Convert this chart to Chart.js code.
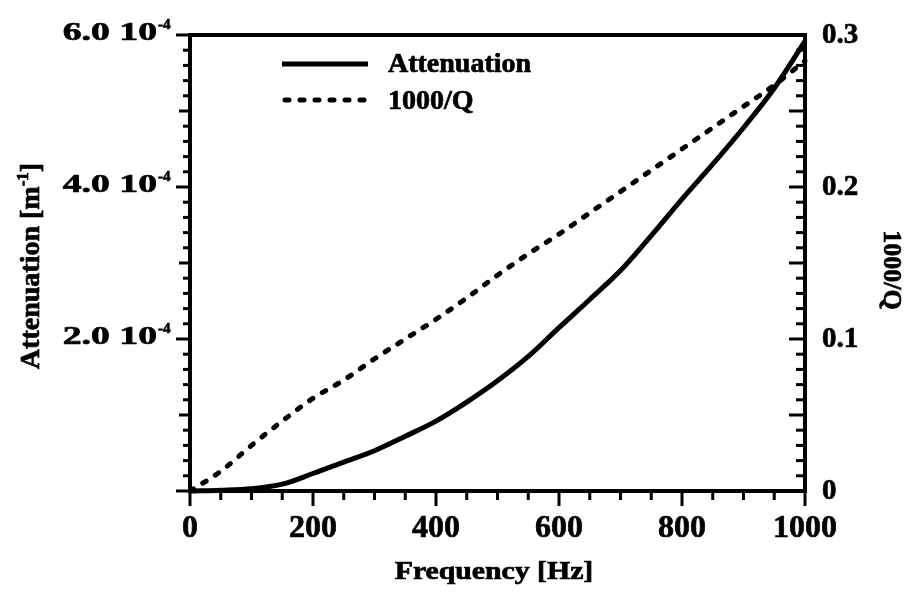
<!DOCTYPE html>
<html>
<head>
<meta charset="utf-8">
<script src="https://cdn.jsdelivr.net/npm/chart.js@4.4.1/dist/chart.umd.min.js"></script>
<style>
  html, body { margin: 0; padding: 0; background: #fff; }
  #wrap { width: 909px; height: 593px; position: relative; }
</style>
</head>
<body>
<div id="wrap"><canvas id="chart"></canvas></div>
<script>
// ---- Data -----------------------------------------------------------------

const freq = [0, 50, 100, 150, 200, 250, 300, 350, 400, 450, 500,
              550, 600, 650, 700, 750, 800, 850, 900, 950, 1000];
// attenuation in m^-1
const attenuation = [0, 0.01e-4, 0.03e-4, 0.09e-4, 0.23e-4, 0.38e-4, 0.53e-4, 0.72e-4,
                     0.92e-4, 1.17e-4, 1.45e-4, 1.77e-4, 2.15e-4, 2.52e-4, 2.90e-4,
                     3.36e-4, 3.84e-4, 4.30e-4, 4.78e-4, 5.30e-4, 5.92e-4];
// 1000/Q
const invQ = [0, 0.013, 0.030, 0.046, 0.061, 0.073, 0.087, 0.100, 0.113, 0.127, 0.142,
              0.156, 0.169, 0.183, 0.197, 0.211, 0.225, 0.239, 0.253, 0.267, 0.283];

const xTicks = [0, 200, 400, 600, 800, 1000];
const leftTicks = [2e-4, 4e-4, 6e-4];
const leftTickText = ["2.0 10", "4.0 10", "6.0 10"];
const leftTickExp = "-4";
const rightTicks = [0, 0.1, 0.2, 0.3];
const rightTickText = ["0", "0.1", "0.2", "0.3"];

const FONT = '"Liberation Serif", "Times New Roman", serif';
const DASH = [4, 11];

// ---- Helpers ---------------------------------------------------------------

function txt(ctx, str, x, y, size, opts = {}) {
  ctx.save();
  ctx.translate(x, y);
  if (opts.rot) ctx.rotate(opts.rot);
  ctx.scale(opts.sx || 1, 1);
  ctx.font = `bold ${size}px ${FONT}`;
  ctx.textAlign = opts.align || "left";
  ctx.textBaseline = "alphabetic";
  ctx.fillStyle = "#000";
  ctx.strokeStyle = "#000";
  ctx.lineWidth = 0.7;
  ctx.fillText(str, 0, 0);
  ctx.strokeText(str, 0, 0);
  ctx.restore();
}

function line(ctx, x1, y1, x2, y2, w) {
  ctx.beginPath();
  ctx.lineWidth = w;
  ctx.moveTo(x1, y1);
  ctx.lineTo(x2, y2);
  ctx.stroke();
}

// frame, ticks, labels, titles, legend
const decor = {
  id: "decor",
  afterDatasetsDraw(chart) {
    const ctx = chart.ctx;
    const { left, right, top, bottom } = chart.chartArea;
    const xs = chart.scales.x, ys = chart.scales.y, y2 = chart.scales.y2;
    ctx.save();
    ctx.strokeStyle = "#000";
    ctx.lineCap = "butt";

    // frame
    ctx.lineWidth = 4;
    ctx.strokeRect(left, top, right - left, bottom - top);

    // bottom ticks (outside)
    for (let k = 0; k <= 20; k++) {
      const px = xs.getPixelForValue(k * 50);
      line(ctx, px, bottom, px, bottom + (k % 4 === 0 ? 15 : 9), 3);
    }
    // left ticks (outside)
    for (let k = 0; k <= 30; k++) {
      const py = ys.getPixelForValue(k * 0.2e-4);
      const len = k % 10 === 0 ? 14 : k % 5 === 0 ? 11 : 7;
      line(ctx, left, py, left - len, py, 3);
    }
    // right ticks (inside)
    for (let k = 0; k <= 30; k++) {
      const py = y2.getPixelForValue(k * 0.01);
      const len = k % 5 === 0 ? 16 : 9;
      line(ctx, right, py, right - len, py, 3);
    }

    // tick labels
    xTicks.forEach((v) => txt(ctx, String(v), xs.getPixelForValue(v), bottom + 46, 32, { align: "center" }));
    leftTicks.forEach((v, i) => {
      const py = ys.getPixelForValue(v);
      txt(ctx, leftTickText[i], 157, py + 5, 26, { align: "right", sx: 1.45 });
      txt(ctx, leftTickExp, 158, py - 6, 15);
    });
    rightTicks.forEach((v, i) => {
      txt(ctx, rightTickText[i], right + 17, y2.getPixelForValue(v) + 8, 29);
    });

    // axis titles
    txt(ctx, "Frequency [Hz]", 494, 579, 25, { align: "center", sx: 1.19 });
    txt(ctx, "1000/Q", 884, 270, 26, { align: "center", rot: Math.PI / 2 });

    // left title with superscript, rotated
    ctx.save();
    ctx.translate(39, 266);
    ctx.rotate(-Math.PI / 2);
    ctx.font = `bold 28px ${FONT}`;
    const a = "Attenuation [m", b = "]";
    const wa = ctx.measureText(a).width, wb = ctx.measureText(b).width;
    ctx.font = `bold 17px ${FONT}`;
    const ws = ctx.measureText("-1").width;
    const x0 = -(wa + ws + wb) / 2;
    ctx.restore();
    const rot = -Math.PI / 2;
    txt(ctx, a, 39, 266 - x0, 28, { rot });
    txt(ctx, "-1", 39 - 11, 266 - x0 - wa, 17, { rot });
    txt(ctx, b, 39, 266 - x0 - wa - ws, 28, { rot });

    // legend
    line(ctx, 282, 64, 368, 64, 5);
    ctx.save();
    ctx.setLineDash(DASH);
    ctx.lineCap = "round";
    line(ctx, 285, 100, 366, 100, 5);
    ctx.restore();
    txt(ctx, "Attenuation", 388, 72, 28);
    txt(ctx, "1000/Q", 388, 109, 28);

    ctx.restore();
  },
};

// ---- Chart -----------------------------------------------------------------

new Chart(document.getElementById("chart"), {
  type: "line",
  data: {
    datasets: [
      {
        label: "Attenuation",
        data: freq.map((f, i) => ({ x: f, y: attenuation[i] })),
        yAxisID: "y",
        borderColor: "#000",
        borderWidth: 5,
        pointRadius: 0,
        cubicInterpolationMode: "monotone",
        clip: false,
      },
      {
        label: "1000/Q",
        data: freq.map((f, i) => ({ x: f, y: invQ[i] })),
        yAxisID: "y2",
        borderColor: "#000",
        borderWidth: 5,
        borderDash: DASH,
        borderCapStyle: "round",
        pointRadius: 0,
        cubicInterpolationMode: "monotone",
        clip: false,
      },
    ],
  },
  options: {
    responsive: true,
    maintainAspectRatio: false,
    animation: false,
    devicePixelRatio: 1,
    layout: { padding: { left: 190, right: 104, top: 35, bottom: 102 } },
    plugins: { legend: { display: false }, tooltip: { enabled: false } },
    scales: {
      x: { type: "linear", min: 0, max: 1000, display: false },
      y: { min: 0, max: 6e-4, display: false },
      y2: { min: 0, max: 0.3, display: false, position: "right" },
    },
  },
  plugins: [decor],
});
</script>
</body>
</html>
